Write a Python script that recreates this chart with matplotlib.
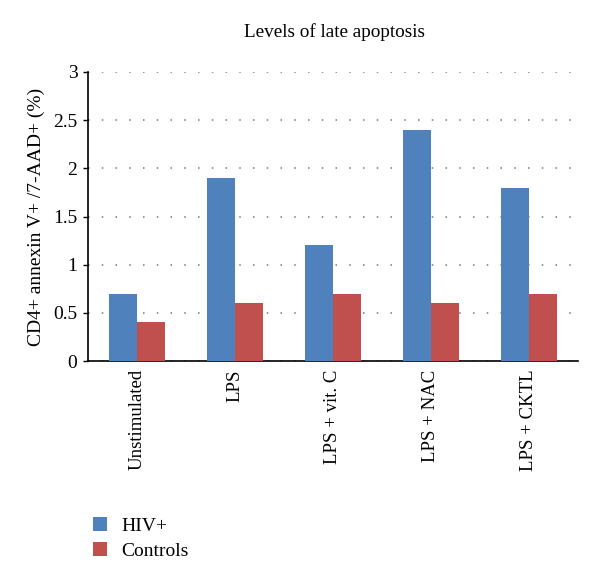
import matplotlib.pyplot as plt
import numpy as np

# data
categories = ["Unstimulated", "LPS", "LPS + vit. C", "LPS + NAC", "LPS + CKTL"]
hiv = [0.7, 1.9, 1.2, 2.4, 1.8]
controls = [0.4, 0.6, 0.7, 0.6, 0.7]

plt.rcParams['font.family'] = ['Liberation Serif', 'DejaVu Serif']

fig = plt.figure(figsize=(6, 5.88), dpi=100)
ax = fig.add_axes([0.1467, 0.386, 0.8163, 0.4916])

x = np.arange(len(categories))
w = 0.286
b1 = ax.bar(x - w/2, hiv, w, color="#4F81BD", label="HIV+", zorder=3)
b2 = ax.bar(x + w/2, controls, w, color="#C0504D", label="Controls", zorder=3)

ax.set_xlim(-0.5, len(categories) - 0.5)
ax.set_ylim(0, 3)
ax.set_yticks([0, 0.5, 1, 1.5, 2, 2.5, 3])
ax.set_yticklabels(["0", "0.5", "1", "1.5", "2", "2.5", "3"], fontsize=14)
ax.set_xticks(x)
ax.set_xticklabels(categories, rotation=90, fontsize=13.5)
ax.tick_params(axis='x', length=0, pad=6)
ax.tick_params(axis='y', length=3.6, width=1, direction='out', pad=4)

ax.yaxis.grid(True, color="#777777", linestyle=(0, (1, 8)), linewidth=1.1, zorder=0)
for s in ["top", "right"]:
    ax.spines[s].set_visible(False)
ax.spines["left"].set_linewidth(1.2)
ax.spines["bottom"].set_linewidth(1.2)

ax.set_ylabel("CD4+ annexin V+ /7-AAD+ (%)", fontsize=14, labelpad=6)
fig.text(0.558, 0.945, "Levels of late apoptosis", ha="center", va="center", fontsize=13.8)

fig.legend(handles=[b1, b2], loc="upper left", bbox_to_anchor=(0.155, 0.12),
           frameon=False, fontsize=14, handlelength=0.72, handleheight=0.72,
           labelspacing=0.35, handletextpad=0.72, borderpad=0, borderaxespad=0)

fig.savefig("out.png", dpi=100)
